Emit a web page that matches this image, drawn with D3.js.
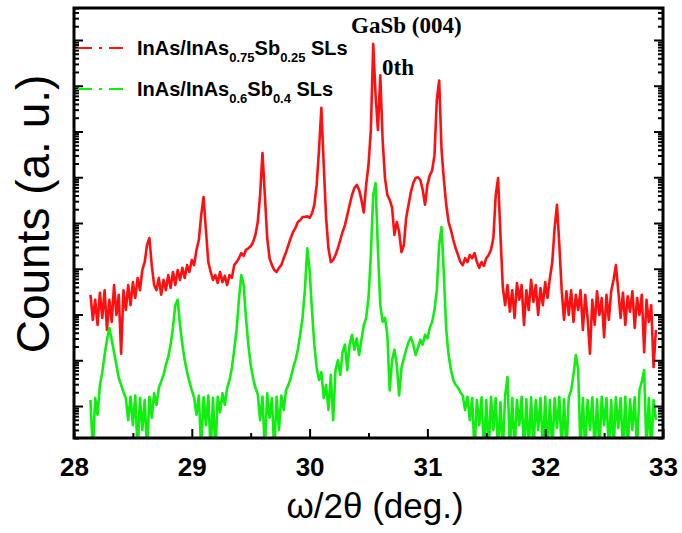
<!DOCTYPE html>
<html>
<head>
<meta charset="utf-8">
<script src="https://cdn.jsdelivr.net/npm/d3@7"></script>
<style>
  body { margin: 0; background: #fff; }
  svg { display: block; }
</style>
</head>
<body>
<svg id="chart" width="682" height="533"></svg>
<script>
// scan grid : omega/2theta in deg., fixed step
const thetaStart = 28.14;
const thetaStep = 0.02;

// InAs/InAs0.75Sb0.25 SLs (counts a.u.)
const redCounts = [
  270, 76, 210, 59, 300, 84, 340, 46, 210, 69,
  440, 98, 270, 14, 340, 125, 440, 160, 510, 230,
  630, 340, 940, 1400, 3300, 4700, 1200, 440, 340, 630,
  270, 570, 340, 730, 380, 850, 440, 940, 570, 1050,
  630, 1200, 850, 1550, 1200, 2600, 4250, 1.5e4, 3.7e4, 7000,
  1400, 850, 570, 730, 490, 850, 510, 700, 440, 730,
  630, 1200, 1400, 1700, 2200, 1900, 2600, 2800, 3100, 3800,
  5500, 1.05e4, 4.1e4, 3.4e5, 4.1e4, 4700, 1700, 1200, 940, 850,
  1050, 1200, 1700, 2300, 3300, 4700, 6400, 7800, 1.05e4, 1.15e4,
  1.35e4, 1.35e4, 1.4e4, 1.3e4, 1.6e4, 2.5e4, 6.8e4, 4e5, 3.3e6, 1.85e5,
  1.3e4, 2800, 1400, 1550, 2000, 2800, 4250, 6400, 9000, 1.5e4,
  2.5e4, 4.1e4, 5.8e4, 6.8e4, 5.3e4, 3.2e4, 1.7e4, 6.8e4, 1.85e5, 1.08e6,
  8.2e7, 6.3e6, 1.08e6, 1.7e7, 6.5e5, 9.6e4, 4.1e4, 3.2e4, 2.2e4, 5500,
  1.05e4, 6400, 2300, 3300, 1.3e4, 2.5e4, 4.8e4, 7.5e4, 9.6e4, 1.0e5,
  8.7e4, 5.3e4, 2.5e4, 6.8e4, 1.1e5, 1.4e5, 3.0e5, 4.9e6, 1.3e7, 4e5,
  8.7e4, 2.5e4, 1.05e4, 7000, 4250, 2800, 2000, 1400, 1200, 1700,
  1400, 2000, 1700, 2200, 1400, 1050, 1400, 1150, 1700, 2000,
  2600, 4700, 4.1e4, 9.6e4, 5500, 400, 160, 440, 115, 340,
  84, 490, 210, 440, 59, 340, 125, 570, 190, 440,
  98, 380, 160, 510, 230, 630, 1400, 7800, 2.5e4, 3300,
  340, 76, 320, 98, 340, 69, 270, 125, 340, 46,
  270, 84, 14, 210, 59, 320, 98, 230, 32, 270,
  76, 320, 570, 1200, 340, 84, 300, 59, 250, 115,
  320, 51, 230, 98, 270, 15, 210, 69, 160, 7.1,
  46
];

// InAs/InAs0.6Sb0.4 SLs
const greenCounts = [
  1.35, 0.1, 1.5, 0.64, 2.9, 5.5, 13, 28, 51, 28,
  15, 7.9, 4.1, 2.9, 2.0, 1.5, 0.49, 1.6, 0.38, 1.7,
  0.1, 1.5, 0.3, 1.35, 0.1, 1.6, 0.55, 1.9, 1.05, 2.5,
  3.4, 4.8, 7.9, 11.8, 22, 51, 160, 210, 59, 22,
  10, 5.5, 3.4, 2.2, 1.5, 0.64, 1.7, 0.1, 1.55, 0.38,
  1.7, 0.1, 1.5, 0.1, 1.6, 0.73, 1.9, 1.05, 2.5, 3.7,
  6.8, 17, 46, 210, 730, 440, 84, 22, 7.9, 4.1,
  2.5, 1.8, 0.49, 1.6, 0.1, 1.9, 0.55, 1.5, 0.1, 1.6,
  0.3, 1.7, 0.82, 2.2, 2.9, 4.1, 6.8, 10, 17, 36,
  84, 340, 2800, 940, 125, 22, 6.8, 3.7, 5.5, 1.5,
  2.9, 0.82, 4.8, 0.49, 6.1, 10, 4.8, 15, 22, 6.1,
  22, 36, 17, 30, 13, 28, 59, 84, 230, 2000,
  4.1e4, 7.5e4, 2600, 160, 69, 84, 36, 2.2, 10, 17,
  7.9, 1.7, 6.8, 11, 17, 25, 32, 22, 13, 19,
  28, 22, 36, 30, 51, 69, 125, 340, 3300, 8200,
  730, 46, 13, 6.1, 3.7, 2.9, 2.5, 2.0, 1.7, 0.82,
  1.6, 0.49, 1.5, 0.1, 1.35, 0.38, 1.55, 0.1, 1.35, 0.1,
  1.6, 0.3, 1.5, 0.1, 1.2, 0.1, 1.7, 4.3, 0.1, 1.5,
  0.1, 1.35, 0.38, 1.6, 0.1, 1.4, 0.1, 1.55, 0.1, 1.35,
  0.3, 1.5, 0.1, 1.6, 0.1, 1.35, 0.1, 1.5, 0.33, 1.6,
  0.1, 1.4, 0.1, 1.55, 2.2, 4.8, 13, 6.1, 0.1, 1.5,
  0.1, 1.35, 0.3, 1.55, 0.1, 1.4, 0.1, 1.6, 0.38, 1.5,
  0.1, 1.35, 0.1, 1.55, 0.33, 1.5, 0.1, 1.6, 0.1, 1.4,
  0.3, 1.55, 0.1, 2.2, 3.4, 6.1, 0.1, 1.5, 0.1, 1.35,
  0.49
];

const xTicks = [28, 29, 30, 31, 32, 33];
const xMinorTicks = [28.5, 29.5, 30.5, 31.5, 32.5];

const series = [
  {name: ["InAs/InAs", "0.75", "Sb", "0.25", " SLs"], color: "#ff1010", values: redCounts},
  {name: ["InAs/InAs", "0.6", "Sb", "0.4", " SLs"], color: "#10ee10", values: greenCounts}
];

const svg = d3.select("#chart");
const margin = {top: 8, right: 19, bottom: 95, left: 74};
const width = 682 - margin.left - margin.right;
const height = 533 - margin.top - margin.bottom;

const x = d3.scaleLinear().domain([28, 33]).range([0, width]);
const y = d3.scaleLog().domain([0.2, 5e8]).range([height, 0]);

const g = svg.append("g")
  .attr("transform", "translate(" + margin.left + "," + margin.top + ")");

g.append("clipPath").attr("id", "plotClip")
  .append("rect").attr("width", width).attr("height", height);

// courbes
const line = d3.line()
  .x(function(d, i) { return x(thetaStart + i * thetaStep); })
  .y(function(d) { return y(d); });

g.selectAll(".curve")
  .data(series)
  .enter().append("path")
  .attr("class", "curve")
  .attr("clip-path", "url(#plotClip)")
  .attr("fill", "none")
  .attr("stroke", function(d) { return d.color; })
  .attr("stroke-width", 2.6)
  .attr("stroke-linejoin", "round")
  .attr("d", function(d) { return line(d.values); });

// ticks y (log) : majeurs = decades
const yAll = y.ticks(30);
const yMajor = yAll.filter(function(v) { return Math.abs(Math.log10(v) - Math.round(Math.log10(v))) < 1e-6; });
const yMinor = yAll.filter(function(v) { return yMajor.indexOf(v) < 0; });

function tickAxis(axis, vals, size, tr) {
  const a = g.append("g").attr("transform", tr)
    .call(axis.tickValues(vals).tickSize(size).tickFormat(""));
  a.select(".domain").remove();
  a.selectAll("line").attr("stroke", "#000").attr("stroke-width", 2);
  return a;
}
tickAxis(d3.axisLeft(y), yMajor, -9, "translate(0,0)");
tickAxis(d3.axisLeft(y), yMinor, -5, "translate(0,0)");
tickAxis(d3.axisRight(y), yMajor, -9, "translate(" + width + ",0)");
tickAxis(d3.axisRight(y), yMinor, -5, "translate(" + width + ",0)");
tickAxis(d3.axisBottom(x), xMinorTicks, -5, "translate(0," + height + ")");

const xAxis = g.append("g")
  .attr("transform", "translate(0," + height + ")")
  .call(d3.axisBottom(x).tickValues(xTicks).tickSize(-9).tickPadding(20).tickFormat(d3.format("d")));
xAxis.select(".domain").remove();
xAxis.selectAll("line").attr("stroke", "#000").attr("stroke-width", 2);
xAxis.selectAll("text")
  .attr("fill", "#000")
  .style("font-family", "'Liberation Sans', Arial, sans-serif")
  .style("font-weight", "bold")
  .style("font-size", "26px");

// cadre
g.append("rect")
  .attr("width", width).attr("height", height)
  .attr("fill", "none").attr("stroke", "#000").attr("stroke-width", 3);

// titres des axes
svg.append("text")
  .attr("x", 375).attr("y", 518)
  .attr("text-anchor", "middle")
  .style("font-family", "'Liberation Sans', Arial, sans-serif")
  .style("font-size", "35px")
  .text("\u03c9/2\u03b8 (deg.)");

svg.append("text")
  .attr("transform", "translate(49,214) rotate(-90)")
  .attr("text-anchor", "middle")
  .style("font-family", "'Liberation Sans', Arial, sans-serif")
  .style("font-size", "46px")
  .text("Counts (a. u.)");

// legende
const legend = svg.selectAll(".legend")
  .data(series)
  .enter().append("g")
  .attr("class", "legend")
  .attr("transform", function(d, i) { return "translate(78," + (48 + i * 41) + ")"; });

legend.append("line")
  .attr("x1", 0).attr("x2", 52)
  .attr("stroke", function(d) { return d.color; })
  .attr("stroke-width", 2)
  .attr("stroke-dasharray", "14,7,3,7");

legend.append("text")
  .attr("x", 59).attr("y", 7)
  .style("font-family", "'Liberation Sans', Arial, sans-serif")
  .style("font-weight", "bold")
  .style("font-size", "20px")
  .each(function(d) {
    const t = d3.select(this);
    t.append("tspan").text(d.name[0]);
    t.append("tspan").attr("dy", 7).style("font-size", "13px").text(d.name[1]);
    t.append("tspan").attr("dy", -7).text(d.name[2]);
    t.append("tspan").attr("dy", 7).style("font-size", "13px").text(d.name[3]);
    t.append("tspan").attr("dy", -7).text(d.name[4]);
  });

// annotations des pics
svg.append("text")
  .attr("x", 351).attr("y", 33)
  .style("font-family", "'Liberation Serif', 'Times New Roman', serif")
  .style("font-weight", "bold")
  .style("font-size", "23px")
  .text("GaSb (004)");

svg.append("text")
  .attr("x", 382).attr("y", 75)
  .style("font-family", "'Liberation Serif', 'Times New Roman', serif")
  .style("font-weight", "bold")
  .style("font-size", "23px")
  .text("0th");
</script>
</body>
</html>
